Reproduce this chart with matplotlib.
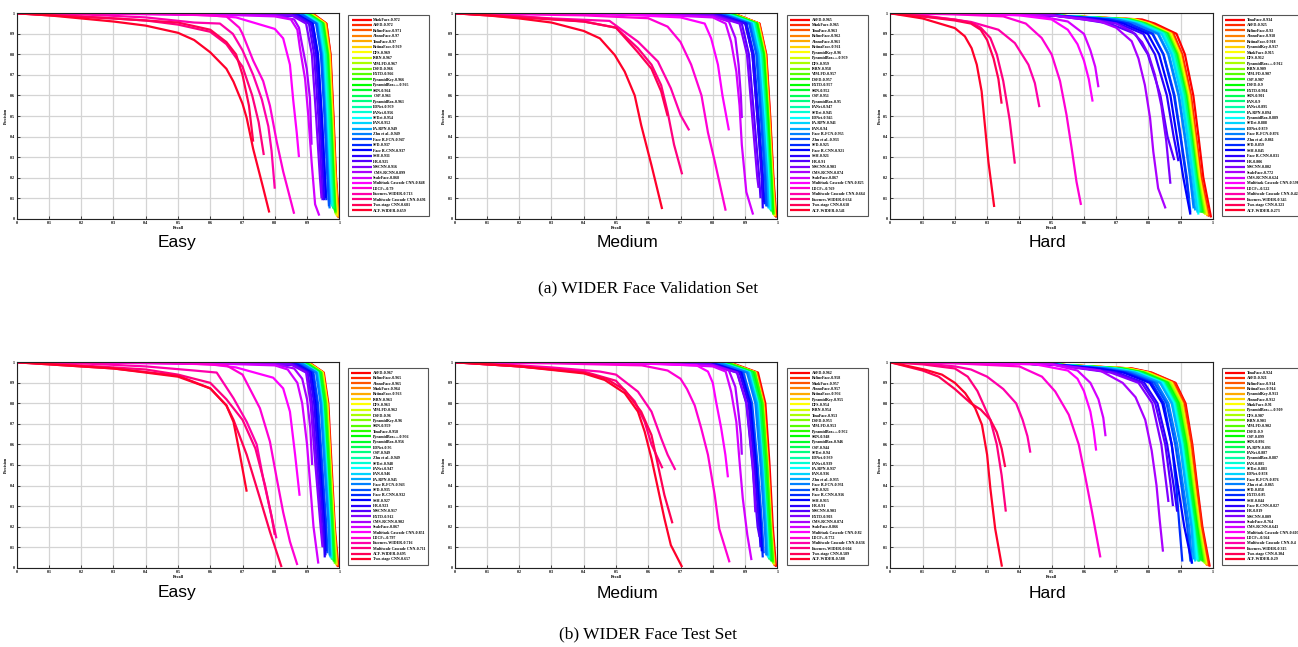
import colorsys
import matplotlib
matplotlib.use("Agg")
import matplotlib.pyplot as plt
from matplotlib.font_manager import FontProperties

W, H = 1298, 647

# ---------------- shared precision levels at which recall was read ----------------
KNEE_P_EM = [0.99, 0.95, 0.8, 0.5, 0.2]
HEAD_EM = [(0.0, 1.0), (0.5, 0.997)]
KNEE_P_H = [0.97, 0.95, 0.9, 0.8, 0.6, 0.4, 0.2]
HEAD_H = [(0.0, 1.0), (0.3, 0.997), (0.5, 0.99)]

# =============== (a) Validation - Easy ===============
VE_NAMES = ["MaskFace", "ASFD", "RefineFace", "AInnoFace", "TinaFace", "RetinaFace", "DFS", "ISRN",
            "VIM-FD", "DSFD", "EXTD", "PyramidKey", "PyramidBox++", "SRN", "CSP", "PyramidBox",
            "FDNet", "FANet", "SFDet", "FAN", "FA-RPN", "Zhu et al.", "Face R-FCN", "SFD",
            "Face R-CNN", "SSH", "HR", "MSCNN", "CMS-RCNN", "ScaleFace", "Multitask Cascade CNN",
            "LDCF+", "Faceness-WIDER", "Multiscale Cascade CNN", "Two-stage CNN", "ACF-WIDER"]
VE_AP = [0.972, 0.972, 0.971, 0.970, 0.970, 0.969, 0.969, 0.967, 0.967, 0.966, 0.966, 0.966,
         0.965, 0.964, 0.961, 0.961, 0.959, 0.956, 0.954, 0.952, 0.949, 0.949, 0.947, 0.937,
         0.937, 0.931, 0.925, 0.916, 0.899, 0.868, 0.848, 0.790, 0.713, 0.691, 0.681, 0.659]
VE_KNEES = [
    [.925, .960, .973, .982, .990, .999, .003], [.925, .960, .972, .981, .989, .998, .005],
    [.922, .958, .971, .980, .988, .996, .008], [.920, .957, .970, .979, .987, .995, .010],
    [.920, .956, .970, .979, .988, .997, .006], [.918, .955, .969, .978, .986, .993, .012],
    [.918, .955, .968, .977, .985, .992, .015], [.915, .953, .967, .976, .984, .990, .020],
    [.915, .952, .966, .975, .983, .989, .022], [.913, .951, .965, .975, .983, .988, .030],
    [.912, .950, .965, .974, .982, .987, .035], [.912, .950, .964, .974, .982, .988, .030],
    [.910, .949, .963, .973, .981, .986, .040], [.908, .948, .962, .972, .980, .985, .045],
    [.904, .944, .958, .969, .977, .982, .050], [.903, .943, .958, .968, .976, .981, .050],
    [.900, .941, .956, .966, .974, .979, .060], [.897, .938, .953, .963, .972, .977, .060],
    [.895, .936, .951, .961, .970, .975, .070], [.893, .934, .949, .959, .968, .973, .070],
    [.890, .931, .946, .957, .966, .971, .080], [.889, .930, .945, .956, .965, .970, .050],
    [.887, .928, .943, .954, .963, .968, .060], [.875, .918, .934, .946, .956, .960, .090],
    [.874, .917, .933, .945, .955, .958, .100], [.868, .912, .928, .940, .950, .953, .090],
    [.862, .906, .922, .935, .945, .948, .090], [.852, .897, .915, .928, .940, .945, .100]]
VE_TAILS = [
    [(0, 1), (0.6, 0.995), (0.8, 0.99), (0.86, 0.97), (0.875, 0.93), (0.883, 0.86), (0.899, 0.73),
     (0.909, 0.586), (0.914, 0.36)],
    [(0, 1), (0.6, 0.995), (0.8, 0.985), (0.85, 0.97), (0.87, 0.92), (0.878, 0.83), (0.894, 0.68),
     (0.904, 0.5), (0.914, 0.28), (0.925, 0.07), (0.938, 0.015)],
    [(0, 1), (0.4, 0.998), (0.6, 0.99), (0.68, 0.98), (0.8, 0.924), (0.826, 0.878), (0.847, 0.75),
     (0.857, 0.58), (0.868, 0.42), (0.875, 0.30)],
    [(0, 1), (0.3, 0.998), (0.55, 0.993), (0.65, 0.985), (0.69, 0.93), (0.7, 0.9), (0.733, 0.77),
     (0.764, 0.67), (0.785, 0.55), (0.806, 0.375), (0.826, 0.23), (0.86, 0.024)],
    [(0, 1), (0.2, 0.995), (0.4, 0.98), (0.55, 0.955), (0.63, 0.95), (0.67, 0.9), (0.7, 0.82),
     (0.733, 0.7), (0.76, 0.58), (0.78, 0.45), (0.79, 0.33), (0.80, 0.146)],
    [(0, 1), (0.2, 0.985), (0.4, 0.965), (0.5, 0.945), (0.6, 0.91), (0.65, 0.85), (0.7, 0.74),
     (0.73, 0.6), (0.75, 0.47), (0.766, 0.31)],
    [(0, 1), (0.1, 0.99), (0.3, 0.975), (0.5, 0.955), (0.6, 0.92), (0.65, 0.86), (0.68, 0.8),
     (0.7, 0.7), (0.72, 0.55), (0.733, 0.375)],
    [(0, 1), (0.1, 0.99), (0.2, 0.975), (0.3, 0.96), (0.4, 0.94), (0.5, 0.905), (0.55, 0.87),
     (0.6, 0.81), (0.65, 0.73), (0.672, 0.667), (0.7, 0.56), (0.713, 0.49), (0.733, 0.34),
     (0.764, 0.15), (0.783, 0.03)]]

# =============== (a) Validation - Medium ===============
VM_NAMES = ["ASFD", "MaskFace", "TinaFace", "RefineFace", "AInnoFace", "RetinaFace", "PyramidKey",
            "PyramidBox++", "DFS", "ISRN", "VIM-FD", "DSFD", "EXTD", "SRN", "CSP", "PyramidBox",
            "FANet", "SFDet", "FDNet", "FA-RPN", "FAN", "Face R-FCN", "Zhu et al.", "SFD",
            "Face R-CNN", "SSH", "HR", "MSCNN", "CMS-RCNN", "ScaleFace", "Multitask Cascade CNN",
            "LDCF+", "Multiscale Cascade CNN", "Faceness-WIDER", "Two-stage CNN", "ACF-WIDER"]
VM_AP = [0.965, 0.965, 0.963, 0.962, 0.961, 0.961, 0.960, 0.959, 0.959, 0.958, 0.957, 0.957,
         0.957, 0.952, 0.951, 0.95, 0.947, 0.945, 0.945, 0.941, 0.940, 0.935, 0.933, 0.925,
         0.921, 0.921, 0.910, 0.903, 0.874, 0.867, 0.825, 0.769, 0.664, 0.634, 0.618, 0.541]
VM_KNEES = [
    [.880, .945, .966, .978, .988, .997, .005], [.878, .944, .965, .977, .987, .995, .010],
    [.877, .943, .964, .976, .986, .994, .010], [.876, .942, .963, .975, .986, .993, .012],
    [.875, .941, .962, .974, .985, .992, .015], [.874, .941, .962, .974, .984, .993, .012],
    [.873, .940, .961, .973, .984, .991, .015], [.872, .939, .960, .972, .983, .990, .020],
    [.871, .939, .960, .972, .983, .989, .020], [.870, .938, .959, .972, .982, .988, .025],
    [.869, .937, .958, .971, .981, .987, .025], [.869, .937, .958, .971, .981, .988, .020],
    [.868, .937, .958, .970, .981, .986, .030], [.863, .932, .953, .966, .977, .982, .035],
    [.861, .931, .952, .965, .976, .981, .040], [.860, .930, .951, .964, .976, .980, .040],
    [.856, .927, .948, .962, .974, .978, .045], [.854, .925, .946, .960, .972, .976, .050],
    [.853, .925, .946, .960, .972, .977, .045], [.849, .921, .942, .956, .969, .973, .050],
    [.847, .920, .941, .956, .968, .972, .055], [.841, .915, .937, .951, .964, .968, .060],
    [.838, .913, .935, .949, .962, .966, .060], [.828, .905, .927, .942, .956, .960, .070],
    [.823, .901, .923, .938, .953, .957, .080], [.822, .901, .923, .938, .952, .955, .050],
    [.808, .890, .912, .928, .944, .948, .100], [.800, .883, .906, .922, .938, .942, .150]]
VM_TAILS = [
    [(0, 1), (0.6, 0.995), (0.8, 0.985), (0.85, 0.96), (0.87, 0.88), (0.88, 0.75), (0.887, 0.6),
     (0.89, 0.49)],
    [(0, 1), (0.6, 0.995), (0.8, 0.98), (0.84, 0.95), (0.857, 0.86), (0.873, 0.716), (0.883, 0.55),
     (0.89, 0.36), (0.904, 0.13), (0.925, 0.02)],
    [(0, 1), (0.5, 0.995), (0.7, 0.98), (0.775, 0.95), (0.795, 0.878), (0.816, 0.75), (0.83, 0.6),
     (0.85, 0.43)],
    [(0, 1), (0.4, 0.99), (0.6, 0.976), (0.66, 0.935), (0.7, 0.86), (0.733, 0.75), (0.765, 0.6),
     (0.785, 0.42), (0.806, 0.28), (0.84, 0.039)],
    [(0, 1), (0.2, 0.985), (0.3, 0.975), (0.48, 0.963), (0.568, 0.862), (0.63, 0.765),
     (0.67, 0.635), (0.70, 0.505), (0.727, 0.43)],
    [(0, 1), (0.2, 0.985), (0.4, 0.96), (0.5, 0.93), (0.568, 0.83), (0.61, 0.75), (0.64, 0.65),
     (0.66, 0.52), (0.68, 0.36), (0.705, 0.216)],
    [(0, 1), (0.2, 0.98), (0.4, 0.96), (0.5, 0.93), (0.568, 0.81), (0.61, 0.73), (0.64, 0.62),
     (0.66, 0.5)],
    [(0, 1), (0.1, 0.99), (0.2, 0.975), (0.3, 0.955), (0.4, 0.914), (0.45, 0.878), (0.496, 0.797),
     (0.527, 0.716), (0.558, 0.6), (0.578, 0.456), (0.61, 0.26), (0.643, 0.047)]]

# =============== (a) Validation - Hard ===============
VH_NAMES = ["TinaFace", "ASFD", "RefineFace", "AInnoFace", "RetinaFace", "PyramidKey", "MaskFace",
            "DFS", "PyramidBox++", "ISRN", "VIM-FD", "CSP", "DSFD", "EXTD", "SRN", "FAN", "FANet",
            "FA-RPN", "PyramidBox", "SFDet", "FDNet", "Face R-FCN", "Zhu et al.", "SFD", "SSH",
            "Face R-CNN", "HR", "MSCNN", "ScaleFace", "CMS-RCNN", "Multitask Cascade CNN", "LDCF+",
            "Multiscale Cascade CNN", "Faceness-WIDER", "Two-stage CNN", "ACF-WIDER"]
VH_AP = [0.934, 0.925, 0.920, 0.918, 0.918, 0.917, 0.915, 0.912, 0.912, 0.909, 0.907, 0.907,
         0.900, 0.904, 0.901, 0.900, 0.895, 0.894, 0.889, 0.888, 0.879, 0.876, 0.861, 0.859,
         0.845, 0.831, 0.806, 0.802, 0.772, 0.624, 0.598, 0.522, 0.424, 0.345, 0.323, 0.273]
VH_KNEES = [
    [.780, .820, .887, .913, .939, .955, .970, .994, .006],
    [.767, .810, .878, .905, .932, .948, .964, .988, .010],
    [.760, .805, .873, .900, .928, .945, .960, .984, .012],
    [.758, .802, .871, .899, .926, .943, .959, .983, .015],
    [.757, .803, .871, .898, .927, .943, .958, .980, .020],
    [.756, .801, .870, .898, .925, .942, .958, .982, .015],
    [.753, .799, .868, .896, .924, .941, .957, .978, .020],
    [.749, .796, .865, .893, .921, .939, .955, .976, .020],
    [.749, .796, .865, .893, .921, .938, .954, .975, .025],
    [.745, .792, .862, .890, .919, .936, .952, .972, .025],
    [.742, .790, .860, .889, .917, .935, .951, .970, .030],
    [.742, .790, .860, .888, .917, .934, .950, .968, .030],
    [.732, .783, .853, .882, .912, .930, .946, .962, .030],
    [.738, .787, .857, .886, .915, .932, .949, .966, .030],
    [.734, .784, .854, .883, .913, .930, .947, .963, .035],
    [.732, .783, .853, .882, .912, .930, .946, .960, .040],
    [.725, .777, .848, .878, .908, .926, .943, .958, .030],
    [.724, .776, .847, .877, .907, .925, .942, .956, .035],
    [.717, .771, .842, .873, .903, .921, .939, .955, .020],
    [.716, .769, .841, .872, .902, .921, .938, .952, .030],
    [.703, .760, .832, .864, .895, .914, .932, .945, .040],
    [.699, .756, .829, .861, .893, .912, .929, .940, .050],
    [.678, .740, .814, .847, .881, .900, .919, .930, .030],
    [.675, .738, .812, .846, .879, .899, .917, .925, .100],
    [.655, .722, .798, .833, .868, .888, .908, .930, .020],
    [.636, .707, .784, .820, .857, .878, .893, .280],
    [.600, .679, .759, .798, .837, .859, .880, .285]]
VH_TAILS = [
    [(0, 1), (0.3, 0.997), (0.5, 0.99), (0.6, 0.975), (0.7, 0.95), (0.75, 0.91), (0.78, 0.86),
     (0.8, 0.8), (0.82, 0.7), (0.84, 0.55), (0.855, 0.38), (0.868, 0.17)],
    [(0, 1), (0.3, 0.997), (0.5, 0.99), (0.65, 0.96), (0.7, 0.93), (0.748, 0.864), (0.769, 0.78),
     (0.789, 0.65), (0.805, 0.49), (0.815, 0.327), (0.83, 0.148), (0.853, 0.05)],
    [(0, 1), (0.3, 0.995), (0.45, 0.99), (0.55, 0.96), (0.6, 0.9), (0.62, 0.82), (0.635, 0.74),
     (0.645, 0.64)],
    [(0, 1), (0.3, 0.995), (0.4, 0.99), (0.5, 0.97), (0.55, 0.92), (0.58, 0.85), (0.6, 0.77),
     (0.615, 0.68), (0.627, 0.57)],
    [(0, 1), (0.2, 0.995), (0.35, 0.985), (0.42, 0.95), (0.469, 0.88), (0.5, 0.8), (0.526, 0.67),
     (0.546, 0.506), (0.562, 0.343), (0.577, 0.18), (0.591, 0.067)],
    [(0, 1), (0.1, 0.99), (0.25, 0.958), (0.335, 0.92), (0.386, 0.855), (0.428, 0.75),
     (0.448, 0.66), (0.462, 0.543)],
    [(0, 1), (0.1, 0.985), (0.2, 0.97), (0.25, 0.955), (0.28, 0.93), (0.31, 0.88), (0.33, 0.8),
     (0.35, 0.67), (0.37, 0.48), (0.386, 0.268)],
    [(0, 1), (0.1, 0.985), (0.2, 0.965), (0.25, 0.95), (0.28, 0.92), (0.3, 0.87), (0.32, 0.78),
     (0.335, 0.68), (0.345, 0.56)],
    [(0, 1), (0.1, 0.975), (0.2, 0.928), (0.231, 0.888), (0.252, 0.83), (0.268, 0.75),
     (0.283, 0.62), (0.293, 0.457), (0.304, 0.278), (0.322, 0.057)]]

# =============== (b) Test - Easy ===============
TE_NAMES = ["ASFD", "RefineFace", "AInnoFace", "MaskFace", "RetinaFace", "ISRN", "DFS", "VIM-FD",
            "DSFD", "PyramidKey", "SRN", "TinaFace", "PyramidBox++", "PyramidBox", "FDNet", "CSP",
            "Zhu et al.", "SFDet", "FANet", "FAN", "FA-RPN", "Face R-FCN", "SFD", "Face R-CNN",
            "SSH", "HR", "MSCNN", "EXTD", "CMS-RCNN", "ScaleFace", "Multitask Cascade CNN", "LDCF+",
            "Faceness-WIDER", "Multiscale Cascade CNN", "ACF-WIDER", "Two-stage CNN"]
TE_AP = [0.967, 0.965, 0.965, 0.964, 0.963, 0.963, 0.963, 0.962, 0.960, 0.960, 0.959, 0.958,
         0.956, 0.956, 0.950, 0.949, 0.949, 0.948, 0.947, 0.946, 0.945, 0.943, 0.935, 0.932,
         0.927, 0.923, 0.917, 0.912, 0.902, 0.867, 0.851, 0.797, 0.716, 0.711, 0.695, 0.657]
TE_KNEES = [
    [.915, .952, .966, .976, .986, .997, .003], [.913, .950, .964, .974, .984, .995, .005],
    [.912, .950, .964, .974, .984, .994, .008], [.911, .949, .963, .973, .984, .993, .010],
    [.910, .948, .962, .972, .983, .992, .012], [.910, .948, .962, .972, .983, .991, .015],
    [.909, .948, .962, .972, .982, .990, .020], [.909, .947, .961, .971, .982, .990, .015],
    [.907, .945, .959, .970, .980, .988, .020], [.906, .945, .959, .970, .980, .987, .025],
    [.905, .944, .958, .969, .980, .986, .020], [.904, .943, .957, .968, .979, .985, .030],
    [.902, .941, .955, .966, .977, .983, .030], [.902, .941, .955, .966, .977, .982, .035],
    [.895, .935, .949, .961, .972, .978, .040], [.893, .934, .948, .960, .972, .977, .040],
    [.893, .934, .948, .960, .971, .976, .045], [.892, .933, .947, .959, .971, .975, .050],
    [.891, .932, .946, .958, .970, .974, .050], [.890, .931, .945, .957, .969, .973, .050],
    [.889, .930, .944, .956, .968, .972, .055], [.886, .928, .942, .954, .967, .970, .060],
    [.877, .920, .934, .947, .960, .963, .070], [.873, .917, .931, .944, .958, .960, .080],
    [.867, .912, .926, .940, .954, .957, .060], [.862, .908, .922, .936, .951, .955, .050],
    [.855, .902, .916, .931, .946, .950, .100], [.849, .897, .911, .926, .942, .948, .100]]
TE_TAILS = [
    [(0, 1), (0.6, 0.995), (0.8, 0.99), (0.86, 0.97), (0.885, 0.92), (0.9, 0.82), (0.91, 0.68),
     (0.916, 0.5)],
    [(0, 1), (0.6, 0.995), (0.8, 0.985), (0.84, 0.965), (0.87, 0.9), (0.885, 0.8), (0.9, 0.6),
     (0.91, 0.4), (0.92, 0.2), (0.935, 0.02)],
    [(0, 1), (0.4, 0.998), (0.6, 0.99), (0.68, 0.975), (0.795, 0.925), (0.826, 0.873),
     (0.847, 0.76), (0.863, 0.55), (0.877, 0.35)],
    [(0, 1), (0.3, 0.998), (0.55, 0.993), (0.65, 0.985), (0.7, 0.94), (0.754, 0.776),
     (0.785, 0.614), (0.806, 0.435), (0.826, 0.27), (0.847, 0.127), (0.87, 0.013)],
    [(0, 1), (0.2, 0.995), (0.4, 0.98), (0.55, 0.96), (0.62, 0.95), (0.672, 0.825), (0.713, 0.71),
     (0.744, 0.6), (0.764, 0.435), (0.805, 0.143)],
    [(0, 1), (0.2, 0.985), (0.4, 0.965), (0.5, 0.94), (0.6, 0.9), (0.65, 0.82), (0.7, 0.72),
     (0.74, 0.58), (0.77, 0.4), (0.79, 0.25), (0.80, 0.16)],
    [(0, 1), (0.1, 0.99), (0.3, 0.97), (0.5, 0.935), (0.6, 0.873), (0.65, 0.79), (0.672, 0.72),
     (0.713, 0.55), (0.754, 0.338), (0.785, 0.175), (0.821, 0.003)],
    [(0, 1), (0.1, 0.99), (0.3, 0.97), (0.5, 0.93), (0.6, 0.873), (0.65, 0.79), (0.672, 0.71),
     (0.692, 0.55), (0.713, 0.37)]]

# =============== (b) Test - Medium ===============
TM_NAMES = ["ASFD", "RefineFace", "MaskFace", "AInnoFace", "RetinaFace", "PyramidKey", "DFS",
            "ISRN", "TinaFace", "DSFD", "VIM-FD", "PyramidBox++", "SRN", "PyramidBox", "CSP",
            "SFDet", "FDNet", "FANet", "FA-RPN", "FAN", "Zhu et al.", "Face R-FCN", "SFD",
            "Face R-CNN", "SSH", "HR", "MSCNN", "EXTD", "CMS-RCNN", "ScaleFace",
            "Multitask Cascade CNN", "LDCF+", "Multiscale Cascade CNN", "Faceness-WIDER",
            "Two-stage CNN", "ACF-WIDER"]
TM_AP = [0.962, 0.958, 0.957, 0.957, 0.956, 0.955, 0.954, 0.954, 0.953, 0.953, 0.953, 0.952,
         0.948, 0.946, 0.944, 0.940, 0.939, 0.939, 0.937, 0.936, 0.935, 0.931, 0.921, 0.916,
         0.915, 0.910, 0.903, 0.903, 0.874, 0.866, 0.820, 0.772, 0.636, 0.604, 0.589, 0.588]
TM_KNEES = [
    [.870, .940, .963, .976, .986, .996, .004], [.865, .936, .959, .972, .983, .993, .008],
    [.863, .935, .958, .972, .982, .992, .010], [.863, .934, .958, .971, .982, .991, .012],
    [.862, .933, .957, .971, .981, .990, .015], [.861, .932, .956, .970, .980, .990, .015],
    [.860, .931, .955, .969, .980, .989, .020], [.859, .931, .955, .969, .979, .988, .020],
    [.858, .930, .954, .968, .979, .988, .020], [.858, .930, .954, .968, .979, .987, .025],
    [.858, .930, .954, .968, .978, .986, .025], [.857, .929, .953, .967, .978, .986, .030],
    [.852, .925, .949, .963, .975, .982, .030], [.849, .922, .947, .962, .973, .980, .035],
    [.847, .920, .945, .960, .972, .978, .040], [.841, .916, .941, .956, .968, .975, .040],
    [.840, .915, .940, .955, .968, .974, .045], [.840, .915, .940, .955, .967, .973, .050],
    [.837, .913, .938, .953, .966, .972, .050], [.836, .911, .937, .953, .965, .970, .055],
    [.835, .910, .936, .952, .964, .969, .060], [.830, .906, .932, .948, .961, .966, .060],
    [.817, .895, .922, .939, .953, .958, .070], [.810, .889, .917, .935, .949, .955, .050],
    [.809, .888, .916, .934, .948, .952, .080], [.802, .883, .911, .929, .944, .948, .100],
    [.793, .875, .904, .923, .939, .945, .150], [.793, .876, .905, .924, .932, .270]]
TM_TAILS = [
    [(0, 1), (0.6, 0.995), (0.8, 0.985), (0.85, 0.96), (0.87, 0.88), (0.88, 0.75), (0.887, 0.65),
     (0.89, 0.55)],
    [(0, 1), (0.6, 0.995), (0.8, 0.98), (0.84, 0.955), (0.857, 0.857), (0.873, 0.71),
     (0.883, 0.516), (0.893, 0.338), (0.907, 0.16), (0.92, 0.037)],
    [(0, 1), (0.5, 0.998), (0.75, 0.985), (0.785, 0.955), (0.8, 0.9), (0.81, 0.81), (0.826, 0.68),
     (0.839, 0.55), (0.847, 0.44)],
    [(0, 1), (0.3, 0.995), (0.58, 0.985), (0.66, 0.96), (0.7, 0.92), (0.72, 0.87), (0.744, 0.79),
     (0.764, 0.68), (0.785, 0.55), (0.806, 0.354), (0.82, 0.19), (0.852, 0.026)],
    [(0, 1), (0.2, 0.985), (0.3, 0.975), (0.45, 0.955), (0.5, 0.94), (0.568, 0.857), (0.61, 0.76),
     (0.64, 0.63), (0.66, 0.55), (0.684, 0.476)],
    [(0, 1), (0.2, 0.98), (0.4, 0.955), (0.5, 0.91), (0.558, 0.81), (0.589, 0.71), (0.61, 0.6),
     (0.644, 0.484)],
    [(0, 1), (0.2, 0.98), (0.4, 0.95), (0.47, 0.92), (0.527, 0.865), (0.578, 0.76), (0.61, 0.646),
     (0.63, 0.5), (0.65, 0.354), (0.675, 0.216)],
    [(0, 1), (0.1, 0.99), (0.2, 0.98), (0.4, 0.946), (0.465, 0.914), (0.527, 0.85), (0.568, 0.76),
     (0.589, 0.662), (0.61, 0.532), (0.63, 0.386), (0.65, 0.24), (0.67, 0.11), (0.705, 0.003)]]

# =============== (b) Test - Hard ===============
TH_NAMES = ["TinaFace", "ASFD", "RefineFace", "RetinaFace", "PyramidKey", "AInnoFace", "MaskFace",
            "PyramidBox++", "DFS", "ISRN", "VIM-FD", "DSFD", "CSP", "SRN", "FA-RPN", "FANet",
            "PyramidBox", "FAN", "SFDet", "FDNet", "Face R-FCN", "Zhu et al.", "SFD", "EXTD", "SSH",
            "Face R-CNN", "HR", "MSCNN", "ScaleFace", "CMS-RCNN", "Multitask Cascade CNN", "LDCF+",
            "Multiscale Cascade CNN", "Faceness-WIDER", "Two-stage CNN", "ACF-WIDER"]
TH_AP = [0.924, 0.921, 0.914, 0.914, 0.913, 0.912, 0.910, 0.909, 0.907, 0.903, 0.902, 0.900,
         0.899, 0.896, 0.891, 0.887, 0.887, 0.885, 0.883, 0.878, 0.876, 0.865, 0.858, 0.850,
         0.844, 0.827, 0.819, 0.809, 0.764, 0.643, 0.607, 0.564, 0.400, 0.315, 0.304, 0.290]
TH_KNEES = [
    [.750, .810, .884, .915, .936, .951, .967, .990, .005],
    [.746, .807, .881, .912, .934, .949, .965, .987, .008],
    [.736, .799, .874, .906, .928, .944, .960, .982, .010],
    [.736, .799, .874, .906, .928, .943, .959, .980, .015],
    [.735, .798, .873, .905, .927, .943, .959, .981, .012],
    [.733, .797, .872, .904, .926, .942, .958, .979, .015],
    [.730, .795, .870, .902, .925, .940, .957, .978, .020],
    [.729, .794, .869, .902, .924, .940, .956, .977, .020],
    [.726, .791, .867, .900, .922, .938, .955, .975, .020],
    [.721, .787, .863, .896, .919, .935, .952, .972, .025],
    [.719, .786, .862, .895, .918, .935, .952, .970, .030],
    [.716, .784, .860, .893, .917, .933, .950, .968, .030],
    [.715, .783, .859, .893, .916, .932, .950, .966, .035],
    [.711, .779, .856, .890, .914, .930, .947, .963, .035],
    [.704, .774, .851, .885, .910, .926, .944, .958, .030],
    [.698, .769, .847, .882, .906, .923, .941, .955, .030],
    [.698, .769, .847, .882, .906, .923, .941, .953, .040],
    [.695, .767, .845, .880, .905, .922, .940, .952, .035],
    [.693, .765, .843, .878, .903, .920, .938, .950, .040],
    [.686, .759, .838, .874, .899, .917, .935, .945, .030],
    [.683, .757, .836, .872, .898, .915, .933, .940, .040],
    [.667, .745, .825, .862, .889, .907, .926, .935, .020],
    [.658, .737, .818, .856, .883, .902, .920, .930, .030],
    [.646, .729, .810, .848, .872, .886, .896, .905, .030],
    [.638, .722, .804, .843, .872, .891, .911, .935, .020],
    [.614, .703, .787, .828, .858, .878, .889, .273],
    [.603, .694, .779, .821, .852, .869, .876, .300],
    [.589, .683, .769, .812, .840, .862, .320]]
TH_TAILS = [
    [(0, 1), (0.3, 0.997), (0.5, 0.99), (0.65, 0.96), (0.72, 0.9), (0.76, 0.83), (0.79, 0.72),
     (0.81, 0.57), (0.825, 0.4), (0.835, 0.23), (0.845, 0.078)],
    [(0, 1), (0.3, 0.995), (0.5, 0.99), (0.58, 0.96), (0.62, 0.9), (0.645, 0.82), (0.66, 0.73),
     (0.667, 0.64)],
    [(0, 1), (0.3, 0.995), (0.45, 0.99), (0.55, 0.96), (0.58, 0.92), (0.6, 0.86), (0.62, 0.76),
     (0.63, 0.67), (0.638, 0.57)],
    [(0, 1), (0.2, 0.995), (0.4, 0.98), (0.47, 0.93), (0.511, 0.858), (0.553, 0.745),
     (0.584, 0.6), (0.605, 0.436), (0.625, 0.273), (0.651, 0.05)],
    [(0, 1), (0.1, 0.995), (0.2, 0.98), (0.25, 0.965), (0.3, 0.93), (0.35, 0.87), (0.39, 0.8),
     (0.41, 0.72), (0.425, 0.64), (0.434, 0.56)],
    [(0, 1), (0.1, 0.99), (0.2, 0.97), (0.24, 0.93), (0.27, 0.86), (0.29, 0.79), (0.31, 0.72),
     (0.33, 0.6), (0.345, 0.45), (0.358, 0.273)],
    [(0, 1), (0.1, 0.96), (0.15, 0.93), (0.2, 0.87), (0.25, 0.8), (0.28, 0.77), (0.31, 0.72),
     (0.33, 0.66), (0.345, 0.58), (0.356, 0.49)],
    [(0, 1), (0.108, 0.964), (0.16, 0.94), (0.2, 0.9), (0.232, 0.85), (0.263, 0.777),
     (0.284, 0.696), (0.3, 0.55), (0.31, 0.387), (0.325, 0.19), (0.346, 0.005)]]

XTICKS = [0, 0.1, 0.2, 0.3, 0.4, 0.5, 0.6, 0.7, 0.8, 0.9, 1]
XTICK_LABELS = ["0", "0.1", "0.2", "0.3", "0.4", "0.5", "0.6", "0.7", "0.8", "0.9", "1"]


def make_curves(knees, tails, levels, head):
    curves = []
    for row in knees:
        k = len(row) - 2
        pts = list(head) + list(zip(row[:k], levels[:k])) + [(row[-2], row[-1])]
        curves.append(pts)
    curves.extend(tails)
    return curves


def px_rect(x0, y0, x1, y1):
    return [x0 / W, 1 - y1 / H, (x1 - x0) / W, (y1 - y0) / H]


fig = plt.figure(figsize=(W / 100, H / 100), dpi=100)
serif_b = FontProperties(family="Liberation Serif", weight="bold", size=2.9)
tick_fp = FontProperties(family="Liberation Serif", weight="bold", size=3.0)

panels = [
    (VE_NAMES, VE_AP, VE_KNEES, VE_TAILS, KNEE_P_EM, HEAD_EM, (16.7, 13.3, 339.3, 218.7), (348.3, 14.7), 0.36),
    (VM_NAMES, VM_AP, VM_KNEES, VM_TAILS, KNEE_P_EM, HEAD_EM, (454.7, 13.3, 777.3, 218.7), (787.0, 14.7), 0.36),
    (VH_NAMES, VH_AP, VH_KNEES, VH_TAILS, KNEE_P_H, HEAD_H, (890.3, 13.3, 1213.0, 218.7), (1222.0, 14.7), 0.36),
    (TE_NAMES, TE_AP, TE_KNEES, TE_TAILS, KNEE_P_EM, HEAD_EM, (16.7, 362.3, 339.3, 567.7), (347.7, 367.7), 0.33),
    (TM_NAMES, TM_AP, TM_KNEES, TM_TAILS, KNEE_P_EM, HEAD_EM, (454.7, 362.3, 777.3, 567.7), (786.7, 367.7), 0.33),
    (TH_NAMES, TH_AP, TH_KNEES, TH_TAILS, KNEE_P_H, HEAD_H, (890.3, 362.3, 1213.0, 567.7), (1221.7, 367.7), 0.33),
]

for names, aps, knees, tails, levels, head, rect, legpos, lspace in panels:
    ax = fig.add_axes(px_rect(*rect))
    curves = make_curves(knees, tails, levels, head)
    n = len(names)
    handles = []
    for i, (name, ap, pts) in enumerate(zip(names, aps, curves)):
        col = colorsys.hsv_to_rgb(i / n, 1.0, 1.0)
        rr = [p[0] for p in pts]
        pp = [p[1] for p in pts]
        ln, = ax.plot(rr, pp, color=col, lw=1.6, solid_joinstyle="round",
                      solid_capstyle="butt", label=f"{name}-{ap}", zorder=2 + i * 0.01)
        handles.append(ln)
    ax.set_xlim(0, 1)
    ax.set_ylim(0, 1)
    ax.set_xticks(XTICKS)
    ax.set_xticklabels(XTICK_LABELS)
    ax.set_yticks(XTICKS)
    ax.set_yticklabels(XTICK_LABELS)
    for lab in ax.get_xticklabels() + ax.get_yticklabels():
        lab.set_fontproperties(tick_fp)
    ax.tick_params(direction="in", length=2, width=0.5, pad=1.5)
    ax.grid(True, color="#d4d4d4", lw=0.9)
    ax.set_axisbelow(True)
    for s in ax.spines.values():
        s.set_linewidth(0.8)
        s.set_color("#222222")
    ax.set_xlabel("Recall", fontproperties=tick_fp, labelpad=1)
    ax.set_ylabel("Precision", fontproperties=tick_fp, labelpad=1)
    leg = fig.legend(handles=handles, loc="upper left",
                     bbox_to_anchor=(legpos[0] / W, 1 - legpos[1] / H),
                     bbox_transform=fig.transFigure, prop=serif_b, handlelength=5.0,
                     handletextpad=0.4, labelspacing=lspace, borderpad=0.8, borderaxespad=0,
                     frameon=True, fancybox=False, edgecolor="#555555", framealpha=1)
    leg.get_frame().set_linewidth(0.8)

sans = dict(family="Liberation Sans", fontsize=12.5)
for x, y, t in [(177, 243, "Easy"), (627, 243, "Medium"), (1047, 243, "Hard"),
                (177, 593, "Easy"), (627, 593, "Medium"), (1047, 593, "Hard")]:
    fig.text(x / W, 1 - y / H, t, ha="center", va="center", **sans)

cap = dict(family="Liberation Serif", fontsize=12.5)
fig.text(648 / W, 1 - 288 / H, "(a) WIDER Face Validation Set", ha="center", va="center", **cap)
fig.text(648 / W, 1 - 634 / H, "(b) WIDER Face Test Set", ha="center", va="center", **cap)

fig.savefig("out.png", dpi=100)
